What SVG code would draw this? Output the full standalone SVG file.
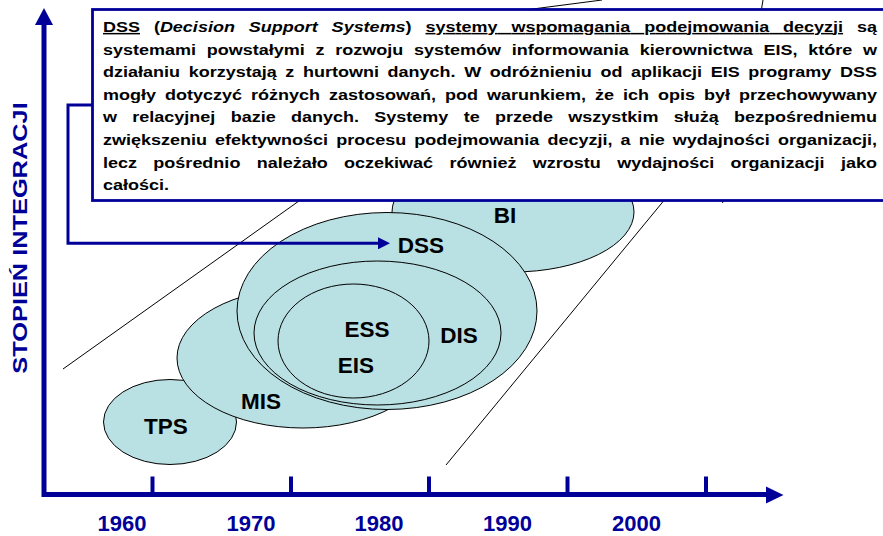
<svg xmlns="http://www.w3.org/2000/svg" width="883" height="536" viewBox="0 0 883 536">
  <style>
    .axis { fill: none; stroke: #000099; stroke-width: 5; stroke-linejoin: miter; }
    .tick { stroke: #000099; stroke-width: 4; }
    .head { fill: #000099; }
    .year { font-family: "Liberation Sans", Arial, sans-serif; font-weight: bold; font-size: 22px; fill: #000099; text-anchor: middle; }
    .ylabel { font-family: "Liberation Sans", Arial, sans-serif; font-weight: bold; font-size: 19.5px; fill: #000099; text-anchor: middle; }
    .guide { fill: none; stroke: #000000; stroke-width: 1; }
    .sys { fill: #b9e0e3; stroke: #000000; stroke-width: 1; }
    .lbl { font-family: "Liberation Sans", Arial, sans-serif; font-weight: bold; font-size: 22.5px; fill: #000000; text-anchor: middle; }
    .link { fill: none; stroke: #000099; stroke-width: 3; }
    .note { fill: #ffffff; stroke: #000099; stroke-width: 2.8; }
    .body { font-family: "Liberation Sans", Arial, sans-serif; font-weight: bold; font-size: 15px; fill: #000000; }
  </style>
  <defs>
    <marker id="tip" markerUnits="userSpaceOnUse" markerWidth="12" markerHeight="12" viewBox="0 0 10 10" refX="0" refY="5" orient="auto">
      <path d="M0,0 L10,5 L0,10 Z" fill="#000099"/>
    </marker>
  </defs>

  <!-- trend corridor -->
  <g id="corridor">
    <path class="guide" d="M63,369 L320,186"/>
    <path class="guide" d="M446,465 L680,181"/>
    <path class="guide" d="M525,10 L602,0"/>
    <path class="guide" d="M761,12 L763,0"/>
    <path class="guide" d="M724,198 L722.5,203"/>
  </g>

  <!-- axes -->
  <g id="axes">
    <path class="axis" d="M44,24 V494.5 H767"/>
    <polygon class="head" points="35,25 53,25 44,8"/>
    <polygon class="head" points="766,486.5 766,503.5 783.5,495"/>
    <line class="tick" x1="152.5" y1="476.5" x2="152.5" y2="494"/>
    <line class="tick" x1="291" y1="476.5" x2="291" y2="494"/>
    <line class="tick" x1="429" y1="476.5" x2="429" y2="494"/>
    <line class="tick" x1="567.5" y1="476.5" x2="567.5" y2="494"/>
    <line class="tick" x1="706" y1="476.5" x2="706" y2="494"/>
    <text class="year" x="122" y="531">1960</text>
    <text class="year" x="251" y="531">1970</text>
    <text class="year" x="379" y="531">1980</text>
    <text class="year" x="507.5" y="531">1990</text>
    <text class="year" x="636.5" y="531">2000</text>
    <text class="ylabel" transform="translate(27,238) rotate(-90) scale(1.3,1)">STOPIEŃ INTEGRACJI</text>
  </g>

  <!-- systems -->
  <g id="bi">
    <ellipse class="sys" cx="513" cy="212" rx="121" ry="60"/>
    <text class="lbl" x="505" y="223">BI</text>
  </g>
  <g id="tps">
    <ellipse class="sys" cx="170" cy="422" rx="66.5" ry="42.5"/>
    <text class="lbl" x="166" y="434">TPS</text>
  </g>
  <g id="mis">
    <ellipse class="sys" cx="303" cy="358" rx="126" ry="70"/>
    <text class="lbl" x="261" y="409">MIS</text>
  </g>
  <g id="dss">
    <ellipse class="sys" cx="387" cy="311" rx="150" ry="98.5"/>
    <text class="lbl" x="421" y="253">DSS</text>
  </g>
  <g id="dis">
    <ellipse class="sys" cx="377.5" cy="333" rx="123.5" ry="72"/>
    <text class="lbl" x="459" y="343">DIS</text>
  </g>
  <g id="ess-eis">
    <ellipse class="sys" cx="353.5" cy="341" rx="75.5" ry="57"/>
    <text class="lbl" x="367" y="337">ESS</text>
    <text class="lbl" x="356" y="373">EIS</text>
  </g>

  <!-- callout link to DSS -->
  <g id="connectors">
    <path class="link" d="M92,105 H68 V243.3 H378" marker-end="url(#tip)"/>
  </g>

  <!-- definition note -->
  <g id="note">
    <rect class="note" x="92.5" y="9.5" width="820" height="191"/>
    <g transform="translate(103,0) scale(1.2,1)">
      <text class="body" x="0" y="32" word-spacing="7.4" textLength="645" lengthAdjust="spacing"><tspan text-decoration="underline">DSS</tspan> (<tspan font-style="italic">Decision Support Systems</tspan>) <tspan text-decoration="underline">systemy wspomagania podejmowania decyzji</tspan> są</text>
      <text class="body" x="0" y="54.6" word-spacing="4.8" textLength="645" lengthAdjust="spacing">systemami powstałymi z rozwoju systemów informowania kierownictwa EIS, które w</text>
      <text class="body" x="0" y="77.2" word-spacing="3" textLength="645" lengthAdjust="spacing">działaniu korzystają z hurtowni danych. W odróżnieniu od aplikacji EIS programy DSS</text>
      <text class="body" x="0" y="99.8" word-spacing="3.3" textLength="645" lengthAdjust="spacing">mogły dotyczyć różnych zastosowań, pod warunkiem, że ich opis był przechowywany</text>
      <text class="body" x="0" y="122.4" word-spacing="8.6" textLength="645" lengthAdjust="spacing">w relacyjnej bazie danych. Systemy te przede wszystkim służą bezpośredniemu</text>
      <text class="body" x="0" y="145" word-spacing="2.6" textLength="645" lengthAdjust="spacing">zwiększeniu efektywności procesu podejmowania decyzji, a nie wydajności organizacji,</text>
      <text class="body" x="0" y="167.6" word-spacing="9.45" textLength="645" lengthAdjust="spacing">lecz pośrednio należało oczekiwać również wzrostu wydajności organizacji jako</text>
      <text class="body" x="0" y="190.2">całości.</text>
    </g>
  </g>
</svg>
